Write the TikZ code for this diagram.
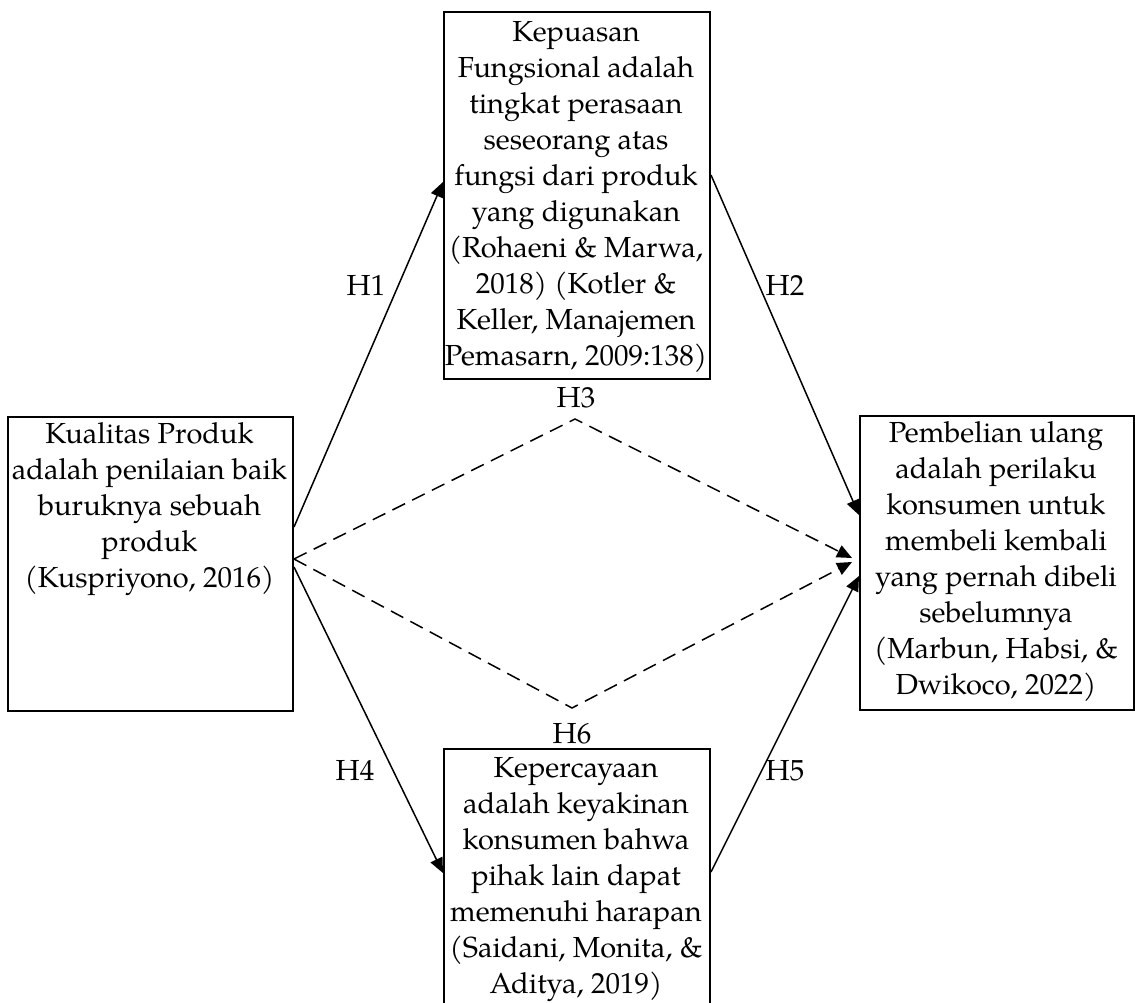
\documentclass[tikz,border=0pt]{standalone}
\usepackage{fontspec}
\setmainfont{texgyrepagella-regular.otf}
\usetikzlibrary{arrows.meta,calc}
\tikzset{
  box/.style={draw, line width=2pt, inner sep=0pt},
  txt/.style={align=center, inner sep=0pt, anchor=north, font=\fontsize{29pt}{36pt}\selectfont},
  lbl/.style={inner sep=0pt, anchor=base, font=\fontsize{29pt}{36pt}\selectfont},
  conn/.style={line width=1.5pt, -{Triangle[length=15pt,width=13pt]}},
  dconn/.style={conn, dash pattern=on 14pt off 8pt}
}
\begin{document}
\begin{tikzpicture}[x=1pt,y=-1pt]
\clip (0,0) rectangle (1135,1003);
\fill[white] (0,0) rectangle (1135,1003);
% boxes
\node[box, anchor=north west, minimum width=266pt, minimum height=367pt] (K) at (443,11) {};
\node[box, anchor=north west, minimum width=285pt, minimum height=294pt] (L) at (7,416) {};
\node[box, anchor=north west, minimum width=274pt, minimum height=294pt] (R) at (859,415) {};
\node[box, anchor=north west, minimum width=266pt, minimum height=280pt] (B) at (443,748) {};
% texts
\node[txt] (Kt) at (576,21) {Kepuasan\\Fungsional adalah\\tingkat perasaan\\seseorang atas\\fungsi dari produk\\yang digunakan\\(Rohaeni \& Marwa,\\2018) (Kotler \&\\Keller, Manajemen\\Pemasarn, 2009:138)};
\node[txt] (Lt) at (149.5,422) {Kualitas Produk\\adalah penilaian baik\\buruknya sebuah\\produk\\(Kuspriyono, 2016)};
\node[txt] (Rt) at (996,421) {Pembelian ulang\\adalah perilaku\\konsumen untuk\\membeli kembali\\yang pernah dibeli\\sebelumnya\\(Marbun, Habsi, \&\\Dwikoco, 2022)};
\node[txt] (Bt) at (576,757) {Kepercayaan\\adalah keyakinan\\konsumen bahwa\\pihak lain dapat\\memenuhi harapan\\(Saidani, Monita, \&\\Aditya, 2019)};
% attachment points
\coordinate (l1) at ([yshift=-111pt]L.north east);
\coordinate (l2) at ([yshift=-143pt]L.north east);
\coordinate (l3) at ([yshift=-151pt]L.north east);
\coordinate (k1) at ([yshift=-171pt]K.north west);
\coordinate (k2) at ([yshift=-164pt]K.north east);
\coordinate (r1) at ([yshift=-100pt]R.north west);
\coordinate (r2) at ([yshift=-143pt,xshift=-7pt]R.north west);
\coordinate (r3) at ([yshift=-147pt,xshift=-7pt]R.north west);
\coordinate (r4) at ([yshift=-161pt]R.north west);
\coordinate (b1) at ([yshift=-125pt]B.north west);
\coordinate (b2) at ([yshift=-124pt]B.north east);
\coordinate (a3) at (575,419);
\coordinate (a6) at (572,708);
% connectors
\draw[conn] (l1) -- (k1);
\draw[conn] (k2) -- (r1);
\draw[conn] (l3) -- (b1);
\draw[conn] (b2) -- (r4);
\draw[dconn] (l2) -- (a3) -- (r2);
\draw[dconn] (l2) -- (a6) -- (r3);
% labels
\node[lbl] (h1) at (366,295) {H1};
\node[lbl] (h2) at (785,295) {H2};
\node[lbl] (h3) at (576,407) {H3};
\node[lbl] (h6) at (572,743) {H6};
\node[lbl] (h4) at (355,780) {H4};
\node[lbl] (h5) at (785,780) {H5};
\end{tikzpicture}
\end{document}
